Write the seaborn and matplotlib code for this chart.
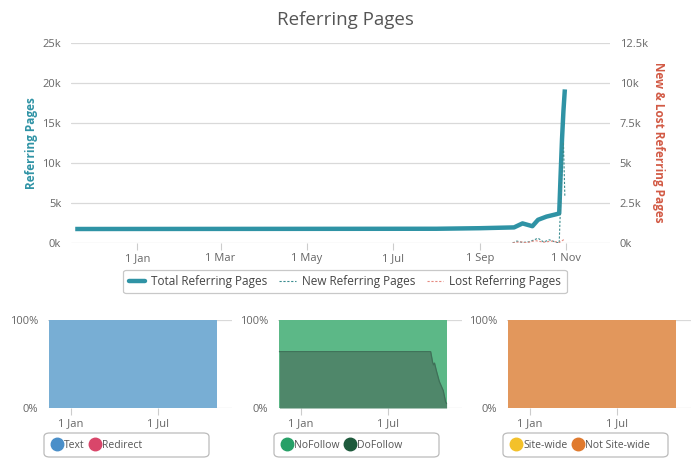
import matplotlib
matplotlib.use("Agg")
import matplotlib.pyplot as plt
import matplotlib.dates as mdates
from matplotlib.lines import Line2D
from matplotlib.patches import FancyBboxPatch
from matplotlib.ticker import FuncFormatter
import pandas as pd
import seaborn as sns

# --- main chart data (values in thousands) ---
total_dates = ["2018-11-18", "2019-08-01", "2019-09-01", "2019-09-25", "2019-10-01",
               "2019-10-08", "2019-10-12", "2019-10-18", "2019-10-25", "2019-10-27",
               "2019-10-28", "2019-10-29", "2019-10-30", "2019-10-31"]
total_k = [1.75, 1.78, 1.85, 1.95, 2.45, 2.1, 2.9, 3.3, 3.6, 3.7, 8.5, 13.0, 16.5, 19.2]

new_dates = ["2019-09-24", "2019-09-27", "2019-10-01", "2019-10-06",
             "2019-10-12", "2019-10-16", "2019-10-20", "2019-10-25", "2019-10-27",
             "2019-10-28", "2019-10-29", "2019-10-30", "2019-10-31"]
new_k = [0, 0.12, 0.03, 0.08, 0.3, 0.06, 0.2, 0.04, 0, 2.5, 4.8, 6.3, 2.9]

lost_dates = ["2019-09-24", "2019-09-29", "2019-10-04", "2019-10-10",
              "2019-10-16", "2019-10-22", "2019-10-27", "2019-10-31"]
lost_k = [0, 0.08, 0.02, 0.15, 0.05, 0.12, 0.03, 0.25]

main_ticks = ["2019-01-01", "2019-03-01", "2019-05-01", "2019-07-01", "2019-09-01", "2019-11-01"]
left_ticks = [0, 5, 10, 15, 20, 25]
left_labels = ["0k", "5k", "10k", "15k", "20k", "25k"]
right_ticks = [0, 2.5, 5, 7.5, 10, 12.5]
right_labels = ["0k", "2.5k", "5k", "7.5k", "10k", "12.5k"]

# --- small panels data (percent) ---
share_dates = ["2018-11-18", "2019-10-31"]
text_pct = [100, 100]
redirect_pct = [0, 0]
nofollow_pct = [100, 100]
dofollow_dates = ["2018-11-18", "2019-09-28", "2019-10-02", "2019-10-04", "2019-10-06",
                  "2019-10-10", "2019-10-16", "2019-10-24", "2019-10-29", "2019-10-31"]
dofollow_pct = [64, 64, 52, 49, 51, 42, 30, 20, 7, 5]
sitewide_pct = [0, 0]
notsitewide_pct = [100, 100]
panel_ticks = ["2019-01-01", "2019-07-01"]

x_range = (pd.Timestamp("2018-11-15"), pd.Timestamp("2019-12-02"))

sns.set_theme(style="white")
plt.rcParams['font.family'] = ['Open Sans', 'DejaVu Sans']

TEAL = "#2f93a5"
RED = "#d25a45"
GRID = "#d9d9d9"
TICKC = "#666666"

date_fmt = FuncFormatter(lambda v, p: f"{mdates.num2date(v).day} {mdates.num2date(v):%b}")

fig = plt.figure(figsize=(7, 4.72), dpi=100)

ax = fig.add_axes([71 / 700, 1 - 243 / 472, 539 / 700, 200 / 472])
ax2 = ax.twinx()

sns.lineplot(x=pd.to_datetime(total_dates), y=total_k, ax=ax, color=TEAL, lw=3.2,
             solid_capstyle="butt", solid_joinstyle="round")
sns.lineplot(x=pd.to_datetime(new_dates), y=new_k, ax=ax2, color="#3a8c8f",
             lw=0.8, linestyle=(0, (2, 1.5)))
sns.lineplot(x=pd.to_datetime(lost_dates), y=lost_k, ax=ax2, color="#e58a80",
             lw=0.8, linestyle=(0, (2, 1.5)))

ax.set_xlim(*x_range)
ax.set_ylim(0, 25)
ax2.set_ylim(0, 12.5)
ax.set_yticks(left_ticks, left_labels)
ax2.set_yticks(right_ticks, right_labels)
ax.set_xticks(pd.to_datetime(main_ticks))
ax.xaxis.set_major_formatter(date_fmt)
ax.grid(axis="y", color=GRID, lw=0.9)
ax.set_axisbelow(True)
for a in (ax, ax2):
    for s in a.spines.values():
        s.set_visible(False)
    a.set_xlabel("")
    a.set_ylabel("")
ax.tick_params(axis="y", length=0, pad=7, labelsize=8, labelcolor=TICKC)
ax2.tick_params(axis="y", length=0, pad=7, labelsize=8, labelcolor=TICKC)
ax.tick_params(axis="x", length=5, width=0.8, color="#cccccc", pad=2,
               labelsize=8, labelcolor=TICKC, bottom=True)

fig.text(345 / 700, 1 - 20 / 472, "Referring Pages", ha="center", va="center",
         fontsize=13.5, color="#555555")
fig.text(32 / 700, 1 - 143 / 472, "Referring Pages", ha="center", va="center",
         rotation=90, fontsize=8.5, color=TEAL, fontweight="bold")
fig.text(659 / 700, 1 - 142 / 472, "New & Lost Referring Pages", ha="center", va="center",
         rotation=-90, fontsize=8.5, color=RED, fontweight="bold")

main_handles = [
    Line2D([], [], color=TEAL, lw=3.2),
    Line2D([], [], color="#3a8c8f", lw=0.8, linestyle=(0, (2, 1.5))),
    Line2D([], [], color="#e58a80", lw=0.8, linestyle=(0, (2, 1.5))),
]
leg = fig.legend(main_handles, ["Total Referring Pages", "New Referring Pages", "Lost Referring Pages"],
                 loc="center", bbox_to_anchor=(345 / 700, 1 - 281.5 / 472), ncol=3,
                 frameon=True, fancybox=True, fontsize=8.5, handlelength=1.4,
                 handletextpad=0.5, columnspacing=1.0, borderpad=0.45)
leg.get_frame().set_edgecolor("#bbbbbb")
leg.get_frame().set_linewidth(0.9)
for t in leg.get_texts():
    t.set_color("#444444")

# --- small panels ---
panels = [
    (48, [(text_pct, "#78aed4", None)], [("Text", "#4a8fc9"), ("Redirect", "#d9466a")]),
    (278, [(nofollow_pct, "#5cb887", None), ("dofollow", "#4f876a", "#3f7058")],
     [("NoFollow", "#27a067"), ("DoFollow", "#1e5a3c")]),
    (507, [(notsitewide_pct, "#e2975c", None)], [("Site-wide", "#f3c12a"), ("Not Site-wide", "#e07a2e")]),
]

for left_px, fills, entries in panels:
    pa = fig.add_axes([left_px / 700, 1 - 408 / 472, 184 / 700, 88 / 472])
    for vals, col, edge in fills:
        if isinstance(vals, str):
            d = pd.to_datetime(dofollow_dates)
            v = dofollow_pct
        else:
            d = pd.to_datetime(share_dates)
            v = vals
        pa.fill_between(d, 0, v, color=col, lw=0)
        if edge:
            sns.lineplot(x=d, y=v, ax=pa, color=edge, lw=0.9)
    pa.set_xlim(*x_range)
    pa.set_ylim(0, 100)
    pa.set_yticks([0, 100], ["0%", "100%"])
    pa.set_xticks(pd.to_datetime(panel_ticks))
    pa.xaxis.set_major_formatter(date_fmt)
    pa.grid(axis="y", color=GRID, lw=0.9)
    pa.set_axisbelow(True)
    for s in pa.spines.values():
        s.set_visible(False)
    pa.set_xlabel("")
    pa.set_ylabel("")
    pa.tick_params(axis="y", length=0, pad=7, labelsize=8, labelcolor=TICKC)
    pa.tick_params(axis="x", length=5, width=0.8, color="#cccccc", pad=2,
                   labelsize=8, labelcolor=TICKC, bottom=True)

    box = FancyBboxPatch(((left_px - 4) / 700, 1 - 457 / 472), 165 / 700, 24 / 472,
                         boxstyle="round,pad=0,rounding_size=0.008", transform=fig.transFigure,
                         facecolor="white", edgecolor="#bbbbbb", lw=0.9)
    fig.patches.append(box)
    handles = [Line2D([], [], marker="o", ls="", markersize=9, markerfacecolor=c,
                      markeredgecolor=c) for _, c in entries]
    pl = fig.legend(handles, [n for n, _ in entries], loc="center left",
                    bbox_to_anchor=((left_px - 2) / 700, 1 - 445 / 472), ncol=2,
                    frameon=False, fontsize=7.5, handlelength=0.8, handletextpad=0.25,
                    columnspacing=0.6, borderpad=0.2)
    for t in pl.get_texts():
        t.set_color("#555555")

fig.savefig("out.png", dpi=100)
